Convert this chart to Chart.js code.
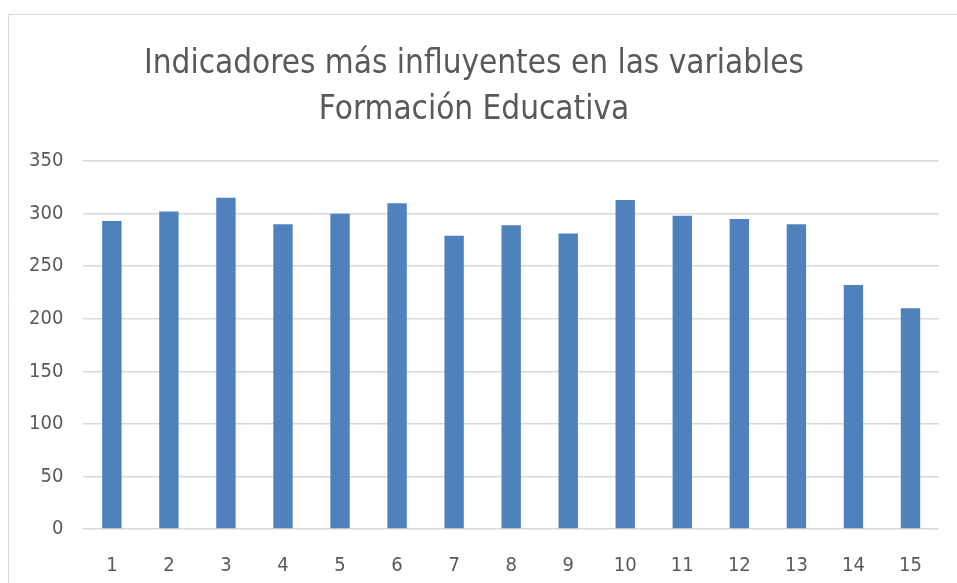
<!DOCTYPE html>
<html>
<head>
<meta charset="utf-8">
<script src="https://cdn.jsdelivr.net/npm/chart.js@4"></script>
<style>
  html, body { margin: 0; padding: 0; background: #fff; }
  #wrap { position: absolute; left: 0; top: 0; width: 957px; height: 583px; }
</style>
</head>
<body>
<div id="wrap"><canvas id="c" width="957" height="583"></canvas></div>
<script>
const categories = ["1","2","3","4","5","6","7","8","9","10","11","12","13","14","15"];
const values = [293, 302, 315, 290, 300, 310, 279, 289, 281, 313, 298, 295, 290, 232, 210];
const titleLines = ["Indicadores más influyentes en las variables", "Formación Educativa"];
const yTicks = [0, 50, 100, 150, 200, 250, 300, 350];

const FONT = "'DejaVu Sans Condensed', 'Liberation Sans Narrow', sans-serif";

const frame = {
  id: 'frame',
  beforeDraw(chart) {
    const ctx = chart.ctx;
    ctx.save();
    ctx.fillStyle = '#fff';
    ctx.fillRect(0, 0, chart.width, chart.height);
    ctx.strokeStyle = '#d9d9d9';
    ctx.lineWidth = 1;
    ctx.beginPath();
    ctx.moveTo(8.5, chart.height);
    ctx.lineTo(8.5, 14.5);
    ctx.lineTo(chart.width, 14.5);
    ctx.stroke();
    ctx.restore();
  }
};

new Chart(document.getElementById('c'), {
  type: 'bar',
  data: {
    labels: categories,
    datasets: [{
      data: values,
      backgroundColor: '#4f81bd',
      categoryPercentage: 1,
      barPercentage: 0.34
    }]
  },
  options: {
    responsive: false,
    animation: false,
    layout: { padding: { left: 9, right: 18, top: 42, bottom: 0 } },
    plugins: {
      legend: { display: false },
      tooltip: { enabled: false },
      title: {
        display: true,
        text: titleLines,
        color: '#595959',
        font: { family: FONT, size: 33, weight: 'normal', lineHeight: 1.38 },
        padding: { top: 0, bottom: 28 }
      }
    },
    scales: {
      x: {
        grid: { display: false },
        border: { display: false },
        ticks: { color: '#595959', font: { family: FONT, size: 20 }, padding: 17 },
        afterFit(axis) { axis.height = 54; }
      },
      y: {
        min: 0, max: 350,
        afterBuildTicks(axis) { axis.ticks = yTicks.map(v => ({ value: v })); },
        grid: { color: '#d9d9d9', lineWidth: 1.5, drawTicks: false },
        border: { display: false },
        ticks: { color: '#595959', font: { family: FONT, size: 20 }, padding: 20 }
      }
    }
  },
  plugins: [frame]
});
</script>
</body>
</html>
